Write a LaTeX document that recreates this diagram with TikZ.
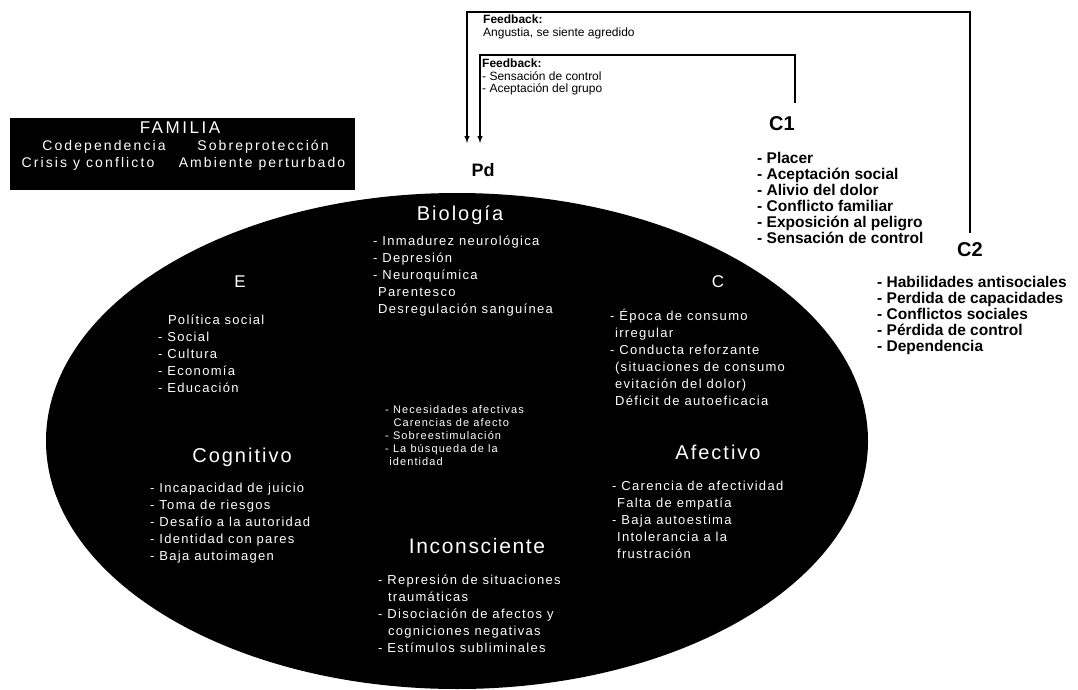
\documentclass[tikz,border=0pt]{standalone}
\usepackage{fontspec}
\setmainfont{Liberation Sans}
\usetikzlibrary{shapes.geometric,positioning}

\begin{document}
\begin{tikzpicture}[x=1pt,y=-1pt, >=latex]
	
	\useasboundingbox (0,0) rectangle (1078,690);
	\tikzset{
		titulo/.style={white, inner sep=0pt, font=\fontsize{20}{20}\selectfont\addfontfeature{LetterSpace=10}},
		lista/.style={white, align=left, anchor=north west, inner sep=0pt, font=\fontsize{13}{17}\selectfont\addfontfeature{LetterSpace=10}},
		fam/.style={white, inner sep=0pt, font=\fontsize{14}{14}\selectfont\addfontfeature{LetterSpace=15}},
		negra/.style={black, align=left, anchor=north west, inner sep=0pt, font=\bfseries\fontsize{15.5}{16}\selectfont},
		clave/.style={black, inner sep=0pt, font=\bfseries\fontsize{20}{20}\selectfont},
		fbtexto/.style={align=left, anchor=north west, inner sep=0pt, font=\fontsize{12}{13}\selectfont},
		retro/.style={line width=1.4pt, ->}
	}
	
	% Familia
	\node[fill=black, minimum width=345pt, minimum height=72pt, inner sep=0pt] (familia) at (182,154) {};
	\node[fam, font=\fontsize{17}{17}\selectfont\addfontfeature{LetterSpace=15}] (famT) at (180,128) {FAMILIA};
	\node[fam] (fam1) at (104,147) {Codependencia};
	\node[fam] (fam2) at (263,147) {Sobreprotección};
	\node[fam] (fam3) at (88,164) {Crisis y conflicto};
	\node[fam] (fam4) at (262,164) {Ambiente perturbado};
	
	% Elipse
	\node[ellipse, fill=black, minimum width=822pt, minimum height=496pt, inner sep=0pt] (psique) at (457,441) {};
	
	\node[titulo] (bioT) at (460,215) {Biología};
	\node[lista] (bioL) at (373,236) {- Inmadurez neurológica\\- Depresión\\- Neuroquímica\\ \ Parentesco\\ \ Desregulación sanguínea};
	
	\node[titulo, font=\fontsize{17}{17}\selectfont] (eT) at (240,282) {E};
	\node[lista] (eL) at (158,315) {\ \ Política social\\- Social\\- Cultura\\- Economía\\- Educación};
	
	\node[titulo, font=\fontsize{17}{17}\selectfont] (cT) at (718,282) {C};
	\node[lista] (cL) at (610,309) {- Época de consumo\\ \ irregular\\- Conducta reforzante\\ \ (situaciones de consumo\\ \ evitación del dolor)\\ \ Déficit de autoeficacia};
	
	\node[lista, font=\fontsize{11}{13}\selectfont\addfontfeature{LetterSpace=10}] (cenL) at (385,405) {- Necesidades afectivas\\ \ \ Carencias de afecto\\- Sobreestimulación\\- La búsqueda de la\\ \ identidad};
	
	\node[titulo] (cogT) at (242,457) {Cognitivo};
	\node[lista] (cogL) at (150,483) {- Incapacidad de juicio\\- Toma de riesgos\\- Desafío a la autoridad\\- Identidad con pares\\- Baja autoimagen};
	
	\node[titulo] (afeT) at (718,452) {Afectivo};
	\node[lista] (afeL) at (612,481) {- Carencia de afectividad\\ \ Falta de empatía\\- Baja autoestima\\ \ Intolerancia a la\\ \ frustración};
	
	\node[titulo, font=\fontsize{21}{21}\selectfont\addfontfeature{LetterSpace=8}] (incT) at (477,546) {Inconsciente};
	\node[lista] (incL) at (378,575) {- Represión de situaciones\\ \ \ traumáticas\\- Disociación de afectos y\\ \ \ cogniciones negativas\\- Estímulos subliminales};
	
	% Consecuencias
	\node[clave, font=\bfseries\fontsize{18}{18}\selectfont] (Pd) at (483,170) {Pd};
	\node[clave] (C1) at (782,124) {C1};
	\node[clave] (C2) at (970,250) {C2};
	
	\node[negra] (c1L) at (757,152) {- Placer\\- Aceptación social\\- Alivio del dolor\\- Conflicto familiar\\- Exposición al peligro\\- Sensación de control};
	\node[negra] (c2L) at (877,276) {- Habilidades antisociales\\- Perdida de capacidades\\- Conflictos sociales\\- Pérdida de control\\- Dependencia};
	
	% Feedback
	\node[fbtexto] (fb1) at (483,15) {\textbf{Feedback:}\\Angustia, se siente agredido};
	\node[fbtexto, font=\fontsize{12}{12.5}\selectfont] (fb2) at (482,59) {\textbf{Feedback:}\\- Sensación de control\\- Aceptación del grupo};
	
	\coordinate (topA) at (0,12);
	\coordinate (topB) at (0,55);
	\coordinate (pdA) at (467,143);
	\coordinate (pdB) at (480,143);
	
	\draw[retro, shorten <=10pt] (C2.north) -- (C2.north |- topA) -| (pdA);
	\draw[retro, shorten <=14pt] (C1.north east) -- (C1.north east |- topB) -| (pdB);
	
\end{tikzpicture}
\end{document}
